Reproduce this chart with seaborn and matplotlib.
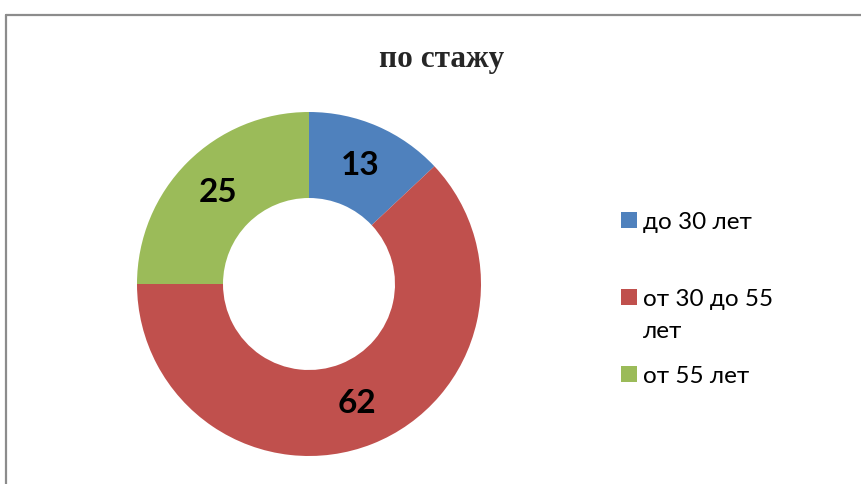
import matplotlib
matplotlib.use("Agg")
import matplotlib.pyplot as plt
import seaborn as sns
import numpy as np
from matplotlib.patches import Rectangle
from matplotlib.lines import Line2D

# data
categories = ["до 30 лет", "от 30 до 55\nлет", "от 55 лет"]
values = [13, 62, 25]
colors = ["#4F81BD", "#C0504D", "#9BBB59"]
title = "по стажу"

sns.set_theme(style="white")
plt.rcParams['font.family'] = ['Lato', 'DejaVu Sans']

W, H = 862, 484
fig = plt.figure(figsize=(W / 100, H / 100), dpi=100)
fig.patch.set_facecolor("white")

def fx(px):
    return px / W

def fy(py):
    return 1 - py / H

# donut
cx, cy, r = 309, 284, 172
ax = fig.add_axes([fx(cx - r), fy(cy + r), 2 * r / W, 2 * r / H])
wedges, _ = ax.pie(values, colors=colors, startangle=90, counterclock=False,
                   radius=1.0, wedgeprops=dict(width=0.5, edgecolor="none"))
for w, v in zip(wedges, values):
    ang = np.deg2rad((w.theta1 + w.theta2) / 2)
    ax.text(0.75 * np.cos(ang), 0.75 * np.sin(ang), str(v), ha="center", va="center",
            fontsize=24, fontweight="bold", color="black", family=['Lato', 'DejaVu Sans'])
ax.set_xlim(-1, 1)
ax.set_ylim(-1, 1)
ax.set_aspect("equal")
ax.axis("off")

# title
fig.text(fx(442), fy(67), title, ha="center", va="baseline", fontsize=22.5,
         fontweight="bold", family=["Liberation Serif", "DejaVu Serif"])

# legend (manual placement)
sq_centers = [220, 297, 374]
baselines = [[229], [306, 338], [383]]
for c, lab, yc, bls in zip(colors, categories, sq_centers, baselines):
    fig.patches.append(Rectangle((fx(621), fy(yc + 8)), 16 / W, 16 / H,
                                 transform=fig.transFigure, facecolor=c,
                                 edgecolor="none", figure=fig))
    for line, bl in zip(lab.split("\n"), bls):
        fig.text(fx(643), fy(bl), line, ha="left", va="baseline", fontsize=17.5,
                 color="black")

# frame
fig.add_artist(Line2D([fx(6), fx(6)], [fy(15), fy(490)], transform=fig.transFigure,
                      color="#8c8c8c", lw=1.6))
fig.add_artist(Line2D([fx(6), fx(870)], [fy(15), fy(15)], transform=fig.transFigure,
                      color="#8c8c8c", lw=1.6))

fig.savefig("out.png", dpi=100)
